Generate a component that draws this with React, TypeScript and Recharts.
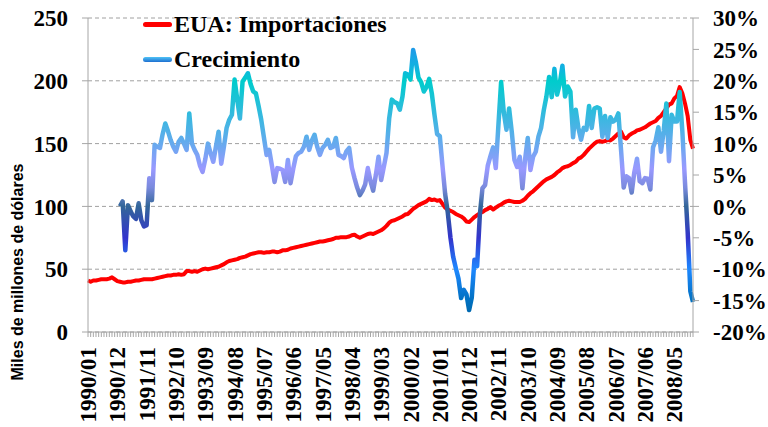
import React from 'react';
import { LineChart, Line, XAxis, YAxis, CartesianGrid } from 'recharts';

// monthly categories 1990/01 .. 2008/12
const years = Array.from({ length: 19 }, (_, k) => 1990 + k);
const monthNums = ['01', '02', '03', '04', '05', '06', '07', '08', '09', '10', '11', '12'];
const months = years.flatMap((y) => monthNums.map((m) => `${y}/${m}`));

// EUA: Importaciones (miles de millones de dólares), one row per year
const imports = [
  41, 40, 41, 41, 41.5, 42, 42, 42, 42.5, 43.5, 42, 40.5, // 1990
  40, 39.5, 39.5, 40, 40, 40.5, 41, 41, 41.5, 42, 42, 42, // 1991
  42, 42.5, 43, 43.5, 44, 44.5, 45, 45, 45.5, 45.5, 46, 45.5, // 1992
  46, 48.5, 48.5, 48, 48.5, 48, 49, 50, 50.5, 50, 50.5, 51, // 1993
  51.5, 52, 53, 54, 55.5, 56.5, 57, 57.5, 58, 59, 59.5, 60, // 1994
  61, 62, 62.5, 63, 63.5, 63.5, 63, 63.5, 63.5, 64, 64, 63.5, // 1995
  64, 65, 65, 65.5, 66.5, 67, 67.5, 68, 68.5, 69, 69.5, 70, // 1996
  70.5, 71, 71.5, 72, 72, 72.5, 73, 73.5, 74, 75, 75, 75.5, // 1997
  75.5, 75.5, 76, 77, 77.5, 76, 75, 76, 77, 78, 78.5, 78, // 1998
  79, 80, 81, 82.5, 84.5, 87, 88.5, 89, 90, 91, 92, 93.5, // 1999
  94, 96, 98, 99.5, 101, 102, 103, 104, 106, 105, 105.5, 104.5, // 2000
  105, 102, 99, 97.5, 96.5, 95.5, 94, 93, 92, 90.5, 88, 87.5, // 2001
  89.5, 91.5, 93, 94.5, 95.5, 97, 98, 99.5, 97.5, 99, 100.5, 101.5, // 2002
  103, 104, 104.5, 104, 103.5, 103.5, 103.5, 104.5, 106, 108.5, 110.5, 112, // 2003
  114, 116, 118, 120, 121.5, 122.5, 123.5, 125, 127, 128.5, 130.5, 131.5, // 2004
  132, 133, 134.5, 135.5, 138, 139, 141, 143.5, 146, 148, 150, 151.5, // 2005
  152, 151.5, 152, 153, 152.5, 154, 156, 158, 159.5, 155, 154, 156.5, // 2006
  158, 159, 160.5, 161, 162, 163, 164.5, 166, 167, 168, 170.5, 172, // 2007
  175, 178, 181, 182, 186, 188, 195, 190, 182, 172, 153, 146, // 2008
];

// Crecimiento anual (%), starts 1991/01
const growth: (number | null)[] = [
  null, null, null, null, null, null, null, null, null, null, null, null, // 1990
  0.0, 0.8, -7.0, 0.2, -0.8, -1.6, -2.0, 0.5, -2.2, -3.2, -3.0, 4.5, // 1991
  1.0, 9.8, 9.5, 9.3, 11.5, 13.2, 12.0, 10.6, 9.5, 8.7, 10.3, 10.9, // 1992
  10.0, 9.0, 14.8, 10.0, 9.0, 8.2, 6.5, 5.5, 7.5, 10.0, 8.5, 7.1, // 1993
  9.5, 11.9, 6.8, 9.5, 12.5, 13.8, 14.6, 20.2, 17.0, 14.0, 19.9, 20.5, // 1994
  21.2, 19.5, 18.3, 18.0, 16.0, 13.8, 11.0, 8.2, 9.0, 6.5, 3.9, 6.1, // 1995
  6.0, 5.8, 3.9, 7.4, 3.7, 6.0, 8.0, 8.5, 8.7, 9.5, 11.1, 9.0, // 1996
  10.5, 11.4, 9.5, 8.2, 9.3, 9.8, 10.6, 9.3, 9.5, 10.9, 8.2, 8.0, // 1997
  7.7, 8.8, 9.3, 6.2, 4.5, 3.0, 1.8, 2.5, 3.5, 6.1, 4.0, 2.5, // 1998
  5.0, 7.9, 4.2, 6.3, 8.5, 14.0, 17.0, 16.6, 16.4, 15.4, 17.5, 21.2, // 1999
  21.0, 20.2, 24.9, 23.0, 20.5, 19.8, 18.3, 19.0, 20.3, 18.0, 14.6, 11.5, // 2000
  11.2, 6.5, 2.0, -1.0, -5.0, -8.0, -9.8, -11.5, -14.6, -13.3, -14.0, -16.5, // 2001
  -14.5, -8.5, -9.5, -1.5, 2.9, 3.4, 6.5, 8.0, 9.4, 6.1, 13.0, 19.8, // 2002
  15.0, 12.2, 15.6, 11.9, 7.4, 6.3, 7.9, 2.9, 7.5, 10.9, 5.8, 7.9, // 2003
  8.7, 11.1, 12.5, 15.3, 17.5, 20.6, 17.4, 21.9, 17.8, 19.5, 22.4, 17.5, // 2004
  19.1, 18.3, 11.0, 15.4, 12.5, 10.6, 12.5, 12.2, 16.0, 12.5, 15.6, 15.8, // 2005
  15.6, 11.1, 14.4, 10.9, 14.2, 13.5, 13.8, 14.8, 9.0, 3.0, 4.8, 4.5, // 2006
  2.2, 5.5, 7.6, 4.0, 3.7, 4.5, 4.4, 2.7, 9.4, 10.5, 12.6, 8.7, // 2007
  12.0, 16.4, 7.2, 14.6, 13.5, 13.5, 18.2, 12.0, 3.8, -4.0, -13.5, -15.2, // 2008
];

const leftTicks = [0, 50, 100, 150, 200, 250];
const rightTicks = [-20, -15, -10, -5, 0, 5, 10, 15, 20, 25, 30];

const data = months.map((m, i) => ({ month: m, imports: imports[i], growth: growth[i] }));

const SERIF = '"Liberation Serif", "Times New Roman", serif';
const SANS = '"Liberation Sans", Arial, sans-serif';
const AXIS = '#A6A6A6';

function MonthTick(props: any) {
  const { x, y, payload } = props;
  const idx = months.indexOf(payload.value);
  if (idx % 11 !== 0) return <g />;
  return (
    <text
      x={x}
      y={y}
      dy="0.35em"
      textAnchor="end"
      transform={`rotate(-90, ${x}, ${y})`}
      fontFamily={SERIF}
      fontWeight="bold"
      fontSize={23}
      fill="#000"
    >
      {payload.value}
    </text>
  );
}

function YTitle() {
  return (
    <text
      x={17}
      y={272}
      transform="rotate(-90, 17, 272)"
      textAnchor="middle"
      dy="0.35em"
      fontFamily={SANS}
      fontWeight="bold"
      fontSize={16}
      fill="#000"
    >
      Miles de millones de dólares
    </text>
  );
}

const tickStyle = { fill: '#000', fontSize: 23, fontWeight: 'bold', fontFamily: SERIF };

export default function App() {
  return (
    <div style={{ position: 'absolute', left: 0, top: 0, width: 768, height: 427, background: '#fff' }}>
      <LineChart width={768} height={427} data={data} margin={{ top: 18, right: 0, bottom: 0, left: 0 }}>
        <defs>
          <linearGradient id="growthGrad" gradientUnits="userSpaceOnUse" x1="0" y1="18" x2="0" y2="332">
            <stop offset="0.1" stopColor="#1E9BE8" />
            <stop offset="0.16" stopColor="#10B4E0" />
            <stop offset="0.2" stopColor="#00CCCC" />
            <stop offset="0.3" stopColor="#30BBDD" />
            <stop offset="0.4" stopColor="#66AAEE" />
            <stop offset="0.48" stopColor="#9999FF" />
            <stop offset="0.54" stopColor="#7A8ADD" />
            <stop offset="0.6" stopColor="#336699" />
            <stop offset="0.7" stopColor="#3333CC" />
            <stop offset="0.8" stopColor="#1E88FF" />
            <stop offset="0.9" stopColor="#0070C0" />
            <stop offset="0.95" stopColor="#0066AA" />
          </linearGradient>
        </defs>
        <CartesianGrid yAxisId="left" vertical={false} stroke="#A0A0A0" strokeDasharray="4 3" />
        <XAxis
          dataKey="month"
          interval={0}
          height={95}
          tick={<MonthTick />}
          tickSize={5}
          tickMargin={10}
          tickLine={{ stroke: AXIS }}
          axisLine={{ stroke: AXIS }}
        />
        <YAxis
          yAxisId="left"
          width={88}
          domain={[0, 250]}
          ticks={leftTicks}
          tick={tickStyle}
          tickSize={6}
          tickMargin={14}
          tickLine={{ stroke: AXIS }}
          axisLine={{ stroke: AXIS }}
          label={<YTitle />}
        />
        <YAxis
          yAxisId="right"
          orientation="right"
          width={75}
          domain={[-20, 30]}
          ticks={rightTicks}
          tickFormatter={(v: number) => `${v}%`}
          tick={tickStyle}
          tickSize={6}
          tickMargin={14}
          tickLine={{ stroke: AXIS }}
          axisLine={{ stroke: AXIS }}
        />
        <Line
          yAxisId="left"
          type="linear"
          dataKey="imports"
          stroke="#FF0000"
          strokeWidth={4}
          strokeLinejoin="round"
          dot={false}
          isAnimationActive={false}
        />
        <Line
          yAxisId="right"
          type="linear"
          dataKey="growth"
          stroke="url(#growthGrad)"
          strokeWidth={4.5}
          strokeLinejoin="round"
          dot={false}
          connectNulls={false}
          isAnimationActive={false}
        />
      </LineChart>
      <div
        style={{
          position: 'absolute',
          left: 143,
          top: 7,
          fontFamily: SERIF,
          fontWeight: 'bold',
          fontSize: 24,
          color: '#000',
          pointerEvents: 'none',
        }}
      >
        <div style={{ display: 'flex', alignItems: 'center', height: 35 }}>
          <span style={{ display: 'inline-block', width: 29, height: 5, borderRadius: 3, background: '#FF0000', marginRight: 2 }} />
          <span>EUA: Importaciones</span>
        </div>
        <div style={{ display: 'flex', alignItems: 'center', height: 35 }}>
          <span
            style={{
              display: 'inline-block',
              width: 29,
              height: 5,
              borderRadius: 3,
              background: 'linear-gradient(to bottom, #4FC3F7, #1E6FD0)',
              marginRight: 2,
            }}
          />
          <span>Crecimiento</span>
        </div>
      </div>
    </div>
  );
}
